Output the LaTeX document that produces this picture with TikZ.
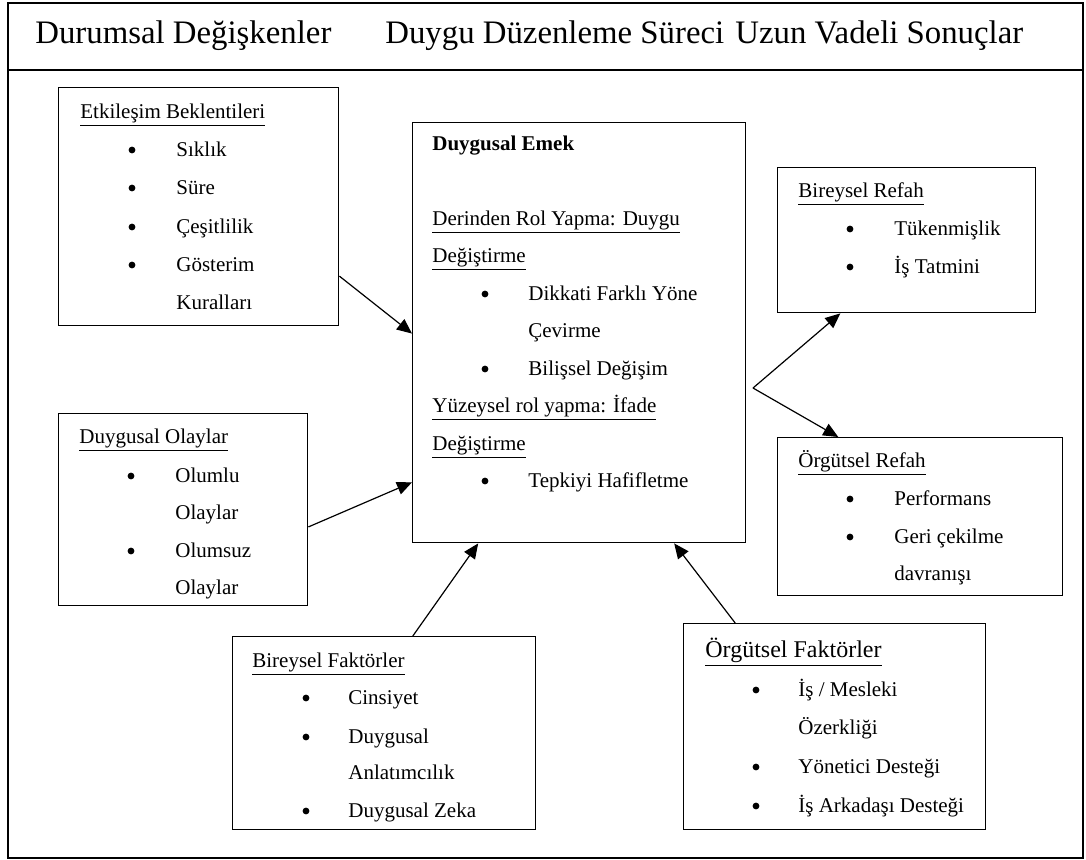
\documentclass[tikz,border=0pt]{standalone}
\usepackage{fontspec}
\setmainfont{Liberation Serif}
\usetikzlibrary{arrows.meta,calc}
\tikzset{
  box/.style={draw, line width=0.7pt, inner sep=0pt, anchor=north west},
  txt/.style={anchor=base west, inner sep=0pt, font=\fontsize{10.5}{12}\selectfont},
  ttl/.style={anchor=base west, inner sep=0pt, font=\fontsize{16.4}{19}\selectfont},
  big/.style={anchor=base west, inner sep=0pt, font=\fontsize{12}{14}\selectfont},
  dot/.style={circle, fill, inner sep=0pt, minimum size=3.4pt},
  conn/.style={line width=0.6pt, -{Triangle[length=7.5pt,width=6.5pt]}},
  plain/.style={line width=0.6pt}
}
\newcommand{\bx}[5]{\node[box, minimum width={(#4-#2)*0.5pt}, minimum height={(#5-#3)*0.5pt}] (#1) at (#2,#3) {};}
\newcommand{\tx}[4]{\node[txt] (#1) at (#2,#3) {#4};}
\newcommand{\ux}[4]{\node[txt] (#1) at (#2,#3) {\underline{#4}};}
\newcommand{\bul}[3]{\node[dot] (#1) at (#2,#3-6) {};}
\begin{document}
\begin{tikzpicture}[x=0.5pt,y=-0.5pt]
\useasboundingbox (0,0) rectangle (1086,859);
% frame
\draw[line width=0.9pt] (8,3) rectangle (1083,858);
\draw[line width=0.9pt] (8,70) -- (1083,70);
\node[ttl] (h1) at (35,43) {Durumsal Değişkenler};
\node[ttl] (h2) at (385,43) {Duygu Düzenleme Süreci};
\node[ttl] (h3) at (735,43) {Uzun Vadeli Sonuçlar};
% boxes
\bx{b1}{58}{87}{338}{325}
\bx{cen}{412}{122}{745}{542}
\bx{br}{777}{167}{1035}{312}
\bx{or}{777}{437}{1062}{595}
\bx{do}{58}{413}{307}{605}
\bx{bf}{232}{636}{535}{829}
\bx{of}{683}{623}{985}{829}
% b1 text
\ux{b1t}{80}{118}{Etkileşim Beklentileri}
\bul{b1b1}{132}{156}\tx{b1i1}{176}{156}{Sıklık}
\bul{b1b2}{132}{194}\tx{b1i2}{176}{194}{Süre}
\bul{b1b3}{132}{233}\tx{b1i3}{176}{233}{Çeşitlilik}
\bul{b1b4}{132}{271}\tx{b1i4}{176}{271}{Gösterim}
\tx{b1i5}{176}{309}{Kuralları}
% central text
\node[txt,font=\fontsize{10.5}{12}\selectfont\bfseries] (cent) at (432,150) {Duygusal Emek};
\ux{cen1}{432}{225}{Derinden Rol Yapma: Duygu}
\ux{cen2}{432}{262}{Değiştirme}
\bul{cenb1}{485}{300}\tx{ceni1}{528}{300}{Dikkati Farklı Yöne}
\tx{ceni2}{528}{337}{Çevirme}
\bul{cenb2}{485}{375}\tx{ceni3}{528}{375}{Bilişsel Değişim}
\ux{cen3}{432}{412}{Yüzeysel rol yapma: İfade}
\ux{cen4}{432}{450}{Değiştirme}
\bul{cenb3}{485}{487}\tx{ceni4}{528}{487}{Tepkiyi Hafifletme}
% br text
\ux{brt}{798}{197}{Bireysel Refah}
\bul{brb1}{850}{235}\tx{bri1}{894}{235}{Tükenmişlik}
\bul{brb2}{850}{273}\tx{bri2}{894}{273}{İş Tatmini}
% or text
\ux{ort}{798}{467}{Örgütsel Refah}
\bul{orb1}{850}{505}\tx{ori1}{894}{505}{Performans}
\bul{orb2}{850}{543}\tx{ori2}{894}{543}{Geri çekilme}
\tx{ori3}{894}{580}{davranışı}
% do text
\ux{dot}{79}{443}{Duygusal Olaylar}
\bul{dob1}{131}{482}\tx{doi1}{175}{482}{Olumlu}
\tx{doi2}{175}{519}{Olaylar}
\bul{dob2}{131}{557}\tx{doi3}{175}{557}{Olumsuz}
\tx{doi4}{175}{594}{Olaylar}
% bf text
\ux{bft}{252}{667}{Bireysel Faktörler}
\bul{bfb1}{306}{704}\tx{bfi1}{348}{704}{Cinsiyet}
\bul{bfb2}{306}{743}\tx{bfi2}{348}{743}{Duygusal}
\tx{bfi3}{348}{779}{Anlatımcılık}
\bul{bfb3}{306}{817}\tx{bfi4}{348}{817}{Duygusal Zeka}
% of text
\node[big] (oft) at (705,657) {\underline{Örgütsel Faktörler}};
\bul{ofb1}{756}{696}\tx{ofi1}{798}{696}{İş / Mesleki}
\tx{ofi2}{798}{734}{Özerkliği}
\bul{ofb2}{756}{773}\tx{ofi3}{798}{773}{Yönetici Desteği}
\bul{ofb3}{756}{812}\tx{ofi4}{798}{812}{İş Arkadaşı Desteği}
% connectors
\draw[conn] ($(b1.north east)!0.79!(b1.south east)$) -- ($(cen.north west)!0.502!(cen.south west)$);
\draw[conn] ($(do.north east)!0.589!(do.south east)$) -- ($(cen.north west)!0.855!(cen.south west)$);
\draw[conn] ($(bf.north west)!0.594!(bf.north east)$) -- ($(cen.south west)!0.198!(cen.south east)$);
\draw[conn] ($(of.north west)!0.172!(of.north east)$) -- ($(cen.south west)!0.784!(cen.south east)$);
\coordinate (split) at (753,388);
\draw[conn] (split) -- ($(br.south west)!0.244!(br.south east)$);
\draw[conn] (split) -- ($(or.north west)!0.214!(or.north east)$);
\end{tikzpicture}
\end{document}
